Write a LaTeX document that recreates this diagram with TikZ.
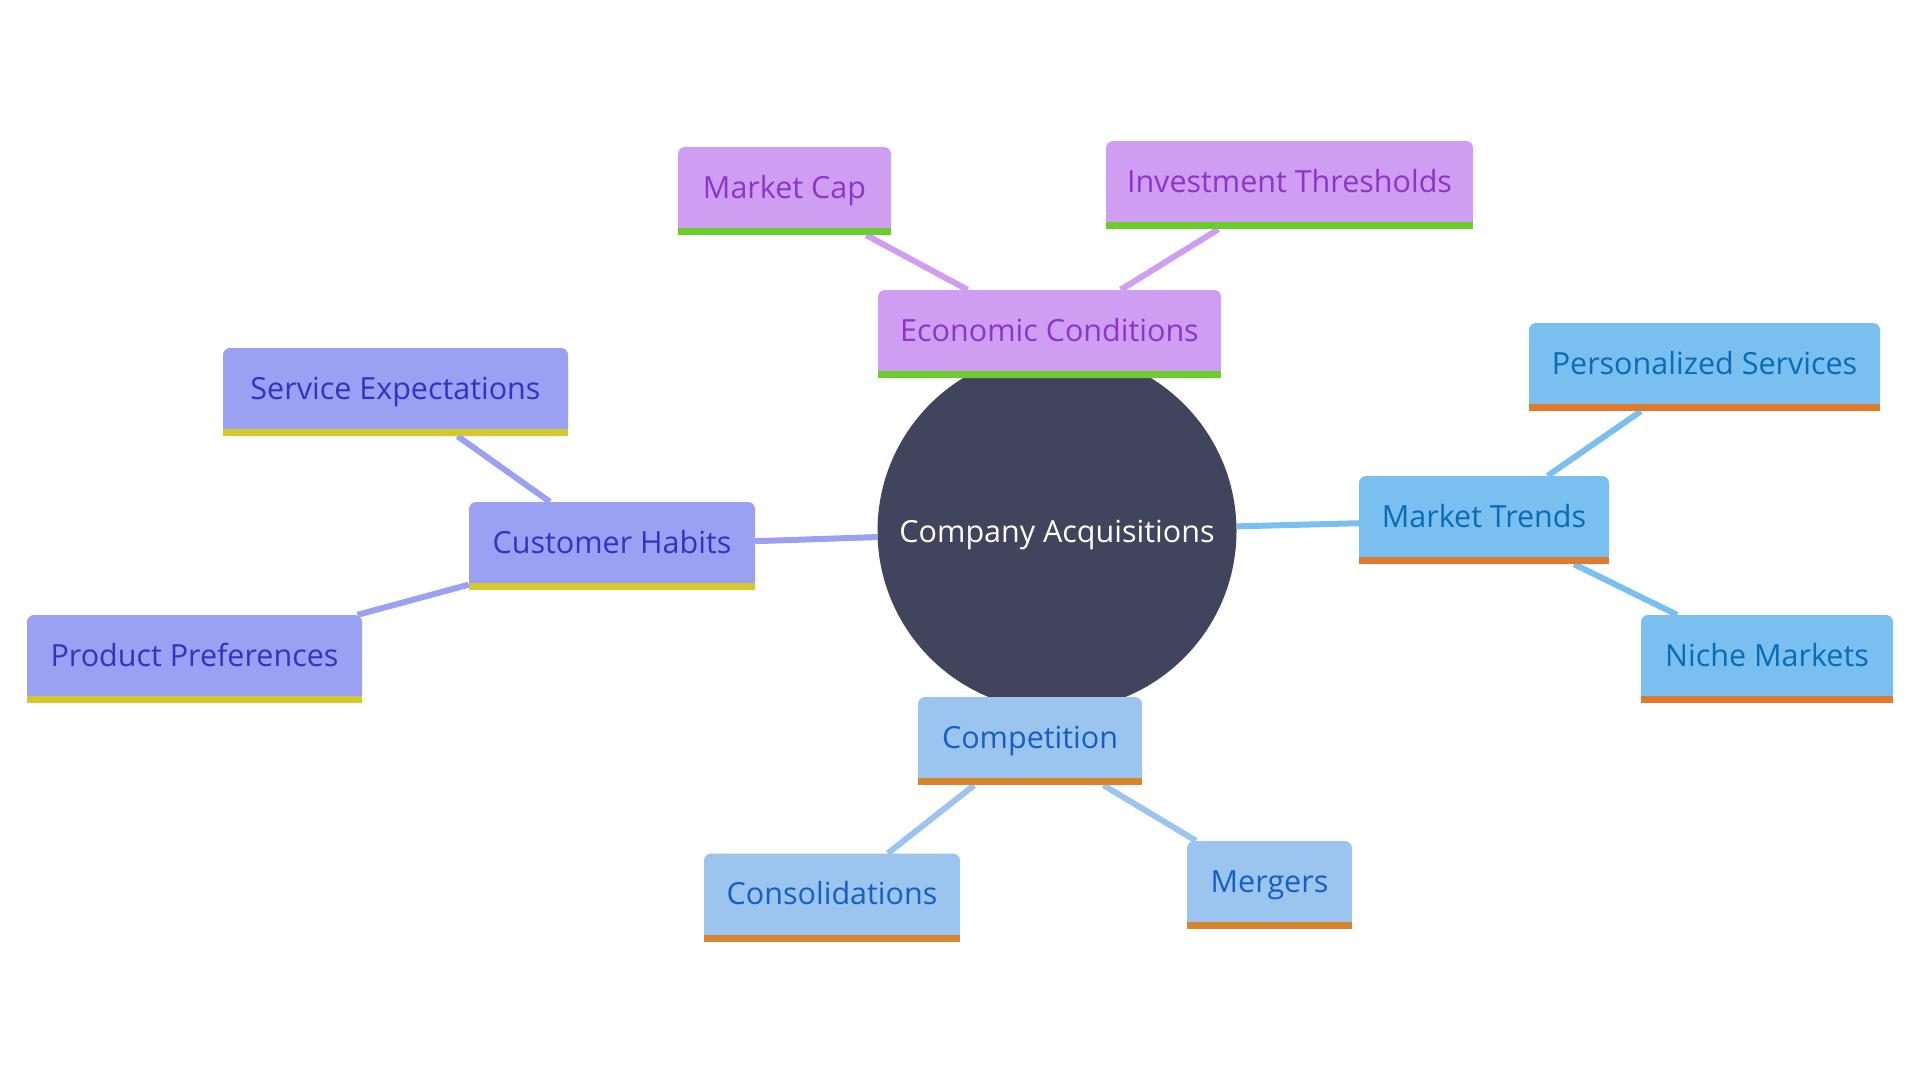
\documentclass[tikz,border=0pt]{standalone}
\usepackage{fontspec}
\setmainfont{Open Sans}
\usetikzlibrary{backgrounds}

\definecolor{hubfill}{HTML}{40445C}
\definecolor{econfill}{HTML}{CF9DF2}
\definecolor{econtext}{HTML}{8C35C9}
\definecolor{econbar}{HTML}{6ACD2B}
\definecolor{custfill}{HTML}{9AA0F2}
\definecolor{custtext}{HTML}{3432C0}
\definecolor{custbar}{HTML}{D4C82C}
\definecolor{trendfill}{HTML}{79BFF0}
\definecolor{trendtext}{HTML}{0A6BB6}
\definecolor{trendbar}{HTML}{E27A2E}
\definecolor{compfill}{HTML}{9BC4EE}
\definecolor{comptext}{HTML}{1560C4}
\definecolor{compbar}{HTML}{D9852C}

\begin{document}
\begin{tikzpicture}[x=1pt,y=-1pt,
    every node/.style={font=\fontsize{30.5}{36}\selectfont},
    hub/.style={circle,fill=hubfill,text=white,minimum size=359pt,inner sep=0pt,
                text height=22pt,text depth=0pt},
    topic/.style={rectangle,rounded corners=7pt,minimum height=88pt,inner xsep=4pt,
                  text height=22pt,text depth=8pt},
    econ box/.style={topic,fill=econfill,text=econtext},
    cust box/.style={topic,fill=custfill,text=custtext},
    trend box/.style={topic,fill=trendfill,text=trendtext},
    comp box/.style={topic,fill=compfill,text=comptext},
    link/.style={line width=6pt}]
    \useasboundingbox (0,0) rectangle (1920,1080);

    \node[hub] (acq) at (1057,531) {Company Acquisitions};

    \node[econ box,minimum width=343pt] (econ) at (1049.5,334) {Economic Conditions};
    \node[econ box,minimum width=213pt] (cap) at (784.5,191) {Market Cap};
    \node[econ box,minimum width=367pt] (inv) at (1289.5,185) {Investment Thresholds};

    \node[cust box,minimum width=286pt] (cust) at (612,546) {Customer Habits};
    \node[cust box,minimum width=345pt] (serv) at (395.5,392) {Service Expectations};
    \node[cust box,minimum width=335pt] (prod) at (194.5,659) {Product Preferences};

    \node[trend box,minimum width=250pt] (trend) at (1484,520) {Market Trends};
    \node[trend box,minimum width=351pt] (pers) at (1704.5,367) {Personalized Services};
    \node[trend box,minimum width=252pt] (niche) at (1767,659) {Niche Markets};

    \node[comp box,minimum width=224pt] (comp) at (1030,741) {Competition};
    \node[comp box,minimum width=256pt] (cons) at (832,897.5) {Consolidations};
    \node[comp box,minimum width=165pt] (merg) at (1269.5,885) {Mergers};

    % coloured strip under each box
    \foreach \n/\c in {econ/econbar,cap/econbar,inv/econbar,
                       cust/custbar,serv/custbar,prod/custbar,
                       trend/trendbar,pers/trendbar,niche/trendbar,
                       comp/compbar,cons/compbar,merg/compbar}
        \fill[\c] (\n.south west) rectangle ([yshift=7pt]\n.south east);

    \begin{scope}[on background layer]
        \draw[link,econfill] (acq) -- (econ) (econ) -- (cap) (econ) -- (inv);
        \draw[link,custfill] (acq) -- (cust) (cust) -- (serv) (cust) -- (prod);
        \draw[link,trendfill] (acq) -- (trend) (trend) -- (pers) (trend) -- (niche);
        \draw[link,compfill] (acq) -- (comp) (comp) -- (cons) (comp) -- (merg);
    \end{scope}
\end{tikzpicture}
\end{document}
